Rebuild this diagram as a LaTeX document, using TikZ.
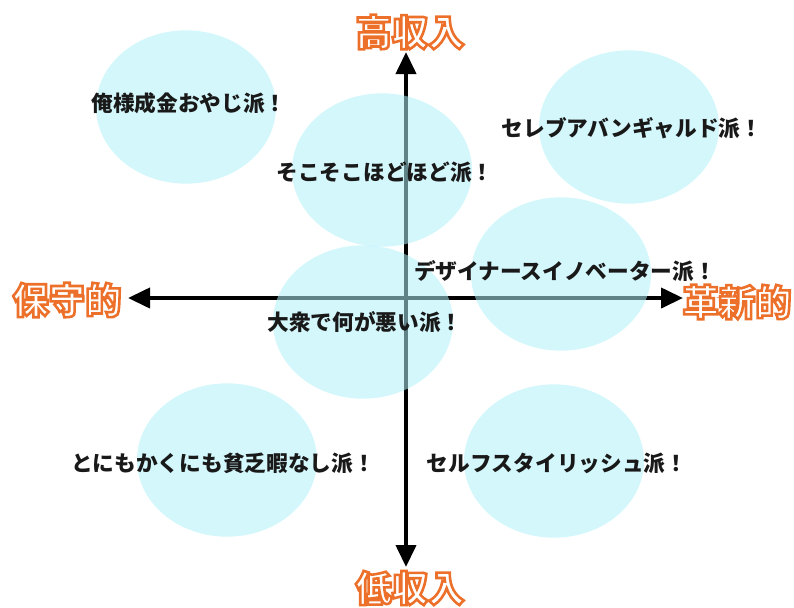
\documentclass[tikz,border=0pt]{standalone}
\usepackage{fontspec}
\setmainfont{Noto Sans CJK JP}
\usetikzlibrary{arrows.meta}
\usetikzlibrary{shapes.geometric}

\definecolor{bubblecyan}{RGB}{176,240,249}
\definecolor{ink}{RGB}{25,25,25}
% white letters with an orange rim
\newcommand{\rimtext}[1]{{\color{white}\special{pdf:literal direct 2 Tr 2.2 w 0.925 0.44 0.16 RG}#1\special{pdf:literal direct 0 Tr 0.4 w}}}

\begin{document}
\begin{tikzpicture}[x=0.03cm, y=-0.03cm, <->, >={Triangle[length=0.66cm, width=0.6cm]},
    bubble/.style = {ellipse, fill=bubblecyan, fill opacity=0.55, inner sep=0pt,
      minimum width=5.4cm, minimum height=4.6cm},
    tag/.style = {text=ink, inner sep=0pt, font=\fontsize{18.5pt}{20pt}\selectfont\bfseries},
    axlab/.style = {inner sep=0pt, font=\fontsize{31pt}{34pt}\selectfont\bfseries},
    axis/.style = {line width=0.12cm}]
    \useasboundingbox (0,0) rectangle (794,607);

    % Axes
    \coordinate (top) at (406,52);
    \coordinate (bottom) at (406,567);
    \coordinate (left) at (128,298);
    \coordinate (right) at (683,298);

    \draw[axis] (bottom) -- (top);
    \draw[axis] (left) -- (right);

    % Nodes
    \node[bubble] (oyaji) at (186,107) {};
    \node[bubble] (sokoso) at (382,170) {};
    \node[bubble] (celeb) at (629,127) {};
    \node[bubble] (design) at (561,274) {};
    \node[bubble] (taishu) at (363,322) {};
    \node[bubble] (binbo) at (227,460) {};
    \node[bubble] (selfst) at (554,461) {};

    \node[tag] (oyaji-t) at (189,103) {俺様成金おやじ派！};
    \node[tag] (sokoso-t) at (385,172) {そこそこほどほど派！};
    \node[tag] (celeb-t) at (632,128) {セレブアバンギャルド派！};
    \node[tag] (design-t) at (565,271) {デザイナースイノベーター派！};
    \node[tag] (taishu-t) at (365,322) {大衆で何が悪い派！};
    \node[tag] (binbo-t) at (223,463) {とにもかくにも貧乏暇なし派！};
    \node[tag] (selfst-t) at (557,463) {セルフスタイリッシュ派！};

    % Axis labels
    \node[axlab] (high) at (410,32) {\rimtext{高収入}};
    \node[axlab] (low) at (410,588) {\rimtext{低収入}};
    \node[axlab] (cons) at (67,300) {\rimtext{保守的}};
    \node[axlab] (innov) at (737,302) {\rimtext{革新的}};

\end{tikzpicture}
\end{document}
